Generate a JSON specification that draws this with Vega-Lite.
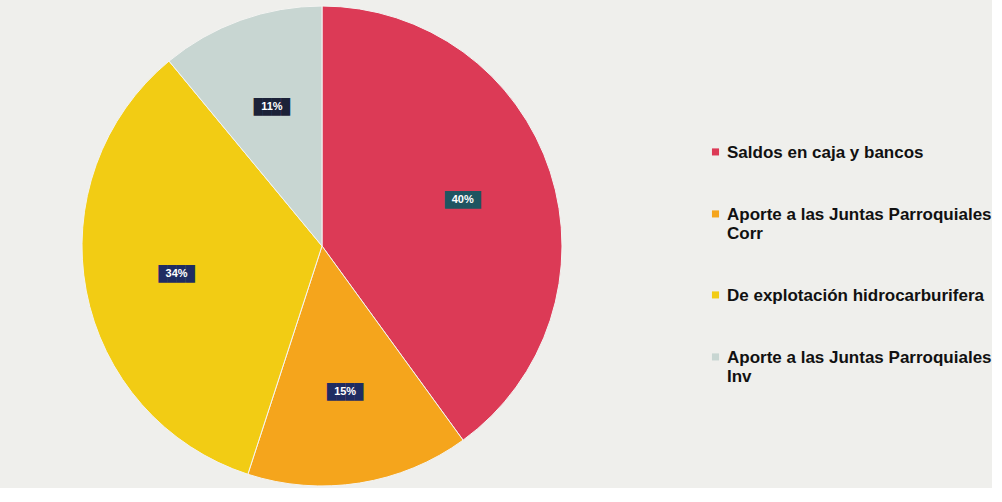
{
  "$schema": "https://vega.github.io/schema/vega-lite/v6.json",
  "width": 644,
  "height": 476,
  "padding": {"left": 0, "top": 4, "right": 0, "bottom": 0},
  "background": "#efefec",
  "config": {"view": {"stroke": null}},
  "data": {
    "values": [
      {"categoria": "Saldos en caja y bancos", "valor": 40, "orden": 1, "etiqueta": "40%", "caja": "teal"},
      {"categoria": "Aporte a las Juntas Parroquiales Corr", "valor": 15, "orden": 2, "etiqueta": "15%", "caja": "navy"},
      {"categoria": "De explotación hidrocarburifera", "valor": 34, "orden": 3, "etiqueta": "34%", "caja": "navy"},
      {"categoria": "Aporte a las Juntas Parroquiales Inv", "valor": 11, "orden": 4, "etiqueta": "11%", "caja": "dark"}
    ]
  },
  "encoding": {
    "theta": {"field": "valor", "type": "quantitative", "stack": true},
    "order": {"field": "orden", "type": "quantitative"}
  },
  "resolve": {"scale": {"color": "independent"}, "legend": {"color": "independent"}},
  "layer": [
    {
      "mark": {"type": "arc", "outerRadius": 240, "stroke": "#f4f4f2", "strokeWidth": 1},
      "encoding": {
        "color": {
          "field": "categoria",
          "type": "nominal",
          "sort": ["Saldos en caja y bancos", "Aporte a las Juntas Parroquiales Corr", "De explotación hidrocarburifera", "Aporte a las Juntas Parroquiales Inv"],
          "scale": {
            "domain": ["Saldos en caja y bancos", "Aporte a las Juntas Parroquiales Corr", "De explotación hidrocarburifera", "Aporte a las Juntas Parroquiales Inv"],
            "range": ["#dc3a56", "#f5a51c", "#f2cc14", "#c8d6d2"]
          },
          "legend": {
            "title": null,
            "orient": "none",
            "legendX": 707,
            "legendY": 128,
            "symbolType": "M-1,1.1H1V3.1H-1Z",
            "symbolSize": 50,
            "symbolStrokeWidth": 0,
            "labelFont": "Liberation Sans",
            "labelFontSize": 17,
            "labelFontWeight": "bold",
            "labelColor": "#111111",
            "labelLimit": 400,
            "labelOffset": 3,
            "rowPadding": 37,
            "labelBaseline": "top",
            "labelExpr": "datum.label == 'Aporte a las Juntas Parroquiales Corr' ? ['Aporte a las Juntas Parroquiales', 'Corr'] : datum.label == 'Aporte a las Juntas Parroquiales Inv' ? ['Aporte a las Juntas Parroquiales', 'Inv'] : datum.label"
          }
        }
      }
    },
    {
      "mark": {"type": "text", "radius": 148, "font": "DejaVu Sans Mono", "fontSize": 15, "baseline": "middle", "align": "center"},
      "encoding": {
        "text": {"value": "████"},
        "color": {
          "field": "caja",
          "type": "nominal",
          "scale": {"domain": ["teal", "navy", "dark"], "range": ["#1f5561", "#1f2c62", "#1c2238"]},
          "legend": null
        }
      }
    },
    {
      "mark": {"type": "text", "radius": 148, "font": "Liberation Sans", "fontSize": 11, "fontWeight": "bold", "color": "#ffffff", "baseline": "middle", "align": "center"},
      "encoding": {"text": {"field": "etiqueta", "type": "nominal"}}
    }
  ]
}
